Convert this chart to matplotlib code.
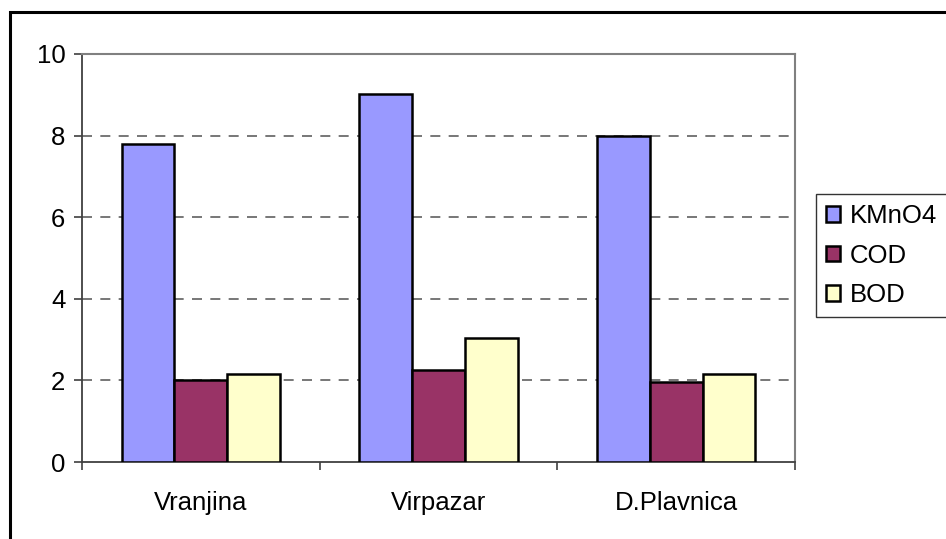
import numpy as np
import matplotlib
matplotlib.use("Agg")
import matplotlib.pyplot as plt
from matplotlib.patches import Rectangle

# data
places = ["Vranjina", "Virpazar", "D.Plavnica"]
kmno4 = [7.8, 9.03, 8.0]
cod = [2.0, 2.25, 1.96]
bod = [2.15, 3.05, 2.15]

series = [("KMnO4", kmno4, "#9999FF"),
          ("COD", cod, "#993366"),
          ("BOD", bod, "#FFFFCC")]

plt.rcParams['font.family'] = ['Liberation Sans', 'DejaVu Sans']
fs = 18.5

fig = plt.figure(figsize=(9.46, 5.39), dpi=100)
ax = fig.add_axes([82/946, 1-462/539, 713/946, 408/539])

x = np.arange(len(places))
w = 1/4.5
for i, (name, vals, col) in enumerate(series):
    ax.bar(x + (i-1)*w, vals, w, color=col, edgecolor="black", linewidth=1.8,
           label=name, zorder=3)

ax.set_xlim(-0.5, 2.5)
ax.set_ylim(0, 10)
ax.set_yticks([0, 2, 4, 6, 8, 10])
ax.set_xticks(x)
ax.set_xticklabels(places)
ax.set_xticks([-0.5, 0.5, 1.5, 2.5], minor=True)
ax.tick_params(axis="x", which="major", length=0, pad=21, labelsize=fs)
ax.tick_params(axis="x", which="minor", length=6, width=1.2, color="#404040")
ax.tick_params(axis="y", length=6, width=1.2, color="#404040", pad=6, labelsize=fs)

for yv in [2, 4, 6, 8]:
    ax.axhline(yv, color="#606060", linestyle=(0, (6, 5)), linewidth=1.2, zorder=1)

ax.spines["left"].set_color("#404040")
ax.spines["bottom"].set_color("#404040")
ax.spines["left"].set_linewidth(1.3)
ax.spines["bottom"].set_linewidth(1.3)
ax.spines["top"].set_color("#808080")
ax.spines["right"].set_color("#808080")
ax.spines["top"].set_linewidth(1.5)
ax.spines["right"].set_linewidth(1.5)

leg = ax.legend(loc="upper left", bbox_to_anchor=(816/946, 1-194/539),
                bbox_transform=fig.transFigure, fontsize=fs, frameon=True,
                fancybox=False, edgecolor="black", handlelength=0.55,
                handleheight=0.55, handletextpad=0.35, labelspacing=0.6,
                borderpad=0.4, borderaxespad=0)
leg.get_frame().set_linewidth(1.0)

# outer chart border
fig.patches.append(Rectangle((10/946, -0.1), 1.2, 1-12/539+0.1,
                             transform=fig.transFigure, fill=False,
                             edgecolor="black", linewidth=2.2))

fig.savefig("out.png", dpi=100)
